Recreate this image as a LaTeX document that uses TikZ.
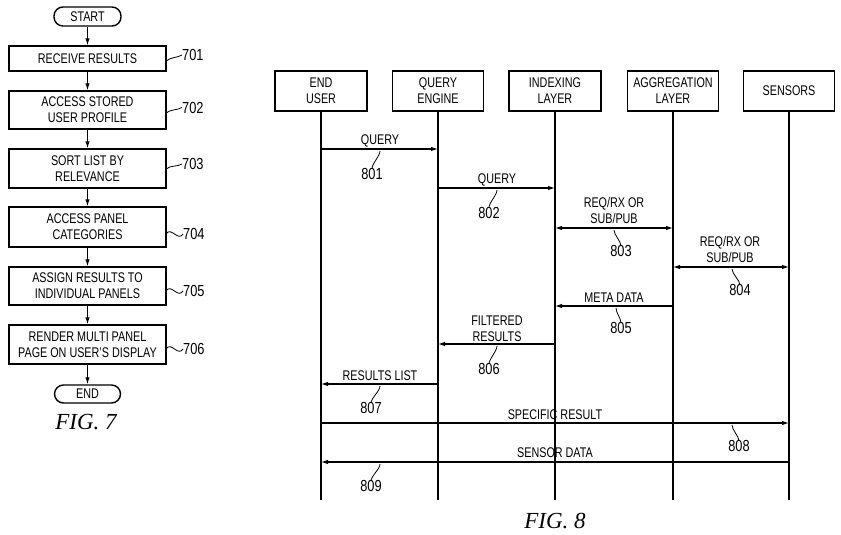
\documentclass[tikz,border=0pt]{standalone}
\usepackage{fontspec}
\setmainfont{Liberation Sans}[FakeStretch=0.77]
\newfontfamily\numfont{Liberation Sans}[FakeStretch=0.8]
\newfontfamily\capfont{Liberation Serif}
\usetikzlibrary{arrows.meta}
\begin{document}
\begin{tikzpicture}[x=1pt,y=-1pt,
  txt/.style={font=\fontsize{14}{16}\selectfont, align=center, inner sep=0pt},
  fbox/.style={draw, line width=1.4pt, minimum width=157pt, inner sep=0pt, font=\fontsize{14}{16}\selectfont, align=center},
  term/.style={draw, line width=1.4pt, rounded corners=9pt, inner sep=0pt, font=\fontsize{14}{16}\selectfont},
  hbox/.style={draw, line width=1.4pt, minimum height=40pt, inner sep=0pt, font=\fontsize{14}{16}\selectfont, align=center},
  num/.style={font=\numfont\fontsize{16}{17}\selectfont, inner sep=0pt},
  flow/.style={line width=1.1pt, -{Latex[length=7pt,width=4.5pt]}},
  life/.style={line width=1.1pt},
  msg/.style={line width=1.1pt, -{Latex[length=7pt,width=4.5pt]}},
  dmsg/.style={line width=1.1pt, {Latex[length=7pt,width=4.5pt]}-{Latex[length=7pt,width=4.5pt]}},
  lead/.style={line width=0.8pt},
  figcap/.style={font=\capfont\itshape\fontsize{23}{26}\selectfont, inner sep=0pt}
]
\useasboundingbox (0,0) rectangle (841,535);

% ---------- FIG. 7 ----------
\node[term, minimum width=67pt, minimum height=19pt] (start) at (87.5,16.5) {START};
\node[fbox, minimum height=25pt] (b701) at (87.5,58.5) {RECEIVE RESULTS};
\node[fbox, minimum height=38pt] (b702) at (87.5,110) {ACCESS STORED\\USER PROFILE};
\node[fbox, minimum height=39pt] (b703) at (87.5,168.5) {SORT LIST BY\\RELEVANCE};
\node[fbox, minimum height=40pt] (b704) at (87.5,227) {ACCESS PANEL\\CATEGORIES};
\node[fbox, minimum height=38pt] (b705) at (87.5,286) {ASSIGN RESULTS TO\\INDIVIDUAL PANELS};
\node[fbox, minimum height=39pt] (b706) at (87.5,344.5) {RENDER MULTI PANEL\\PAGE ON USER'S DISPLAY};
\node[term, minimum width=66pt, minimum height=18pt] (end) at (87.5,394) {END};

\draw[flow] (start) -- (b701);
\draw[flow] (b701) -- (b702);
\draw[flow] (b702) -- (b703);
\draw[flow] (b703) -- (b704);
\draw[flow] (b704) -- (b705);
\draw[flow] (b705) -- (b706);
\draw[flow] (b706) -- (end);

\node[num, anchor=west] (n701) at (182,55) {701};
\node[num, anchor=west] (n702) at (182,107.5) {702};
\node[num, anchor=west] (n703) at (182,164) {703};
\node[num, anchor=west] (n704) at (183,234) {704};
\node[num, anchor=west] (n705) at (183,291) {705};
\node[num, anchor=west] (n706) at (183,349) {706};

\coordinate (t701) at (166,61);
\coordinate (t702) at (166,113);
\coordinate (t703) at (166,169);
\coordinate (t704) at (166,234);
\coordinate (t705) at (166,291);
\coordinate (t706) at (166,349);
\foreach \k in {701,702,703}
  \draw[lead] (t\k) .. controls +(5,-4) and +(-5,3) .. (n\k.west);
\foreach \k in {704,705,706}
  \draw[lead] (t\k) .. controls +(5,-8) and +(-5,8) .. (n\k.west);

\node[figcap] (fig7) at (86,422) {FIG. 7};

% ---------- FIG. 8 ----------
\node[hbox, minimum width=92pt] (eu) at (321,91) {END\\USER};
\node[hbox, minimum width=91pt] (qe) at (438,91) {QUERY\\ENGINE};
\node[hbox, minimum width=92pt] (il) at (555,91) {INDEXING\\LAYER};
\node[hbox, minimum width=91pt] (al) at (673,91) {AGGREGATION\\LAYER};
\node[hbox, minimum width=91pt] (se) at (789,91) {SENSORS};

\coordinate (euE) at (321,500);
\coordinate (qeE) at (438,500);
\coordinate (ilE) at (555,500);
\coordinate (alE) at (673,500);
\coordinate (seE) at (789,500);
\draw[life] (eu.south) -- (euE);
\draw[life] (qe.south) -- (qeE);
\draw[life] (il.south) -- (ilE);
\draw[life] (al.south) -- (alE);
\draw[life] (se.south) -- (seE);

% message end points
\coordinate (m1a) at (321,149); \coordinate (m1b) at (438,149);
\coordinate (m2a) at (438,188); \coordinate (m2b) at (555,188);
\coordinate (m3a) at (555,228); \coordinate (m3b) at (673,228);
\coordinate (m4a) at (673,267); \coordinate (m4b) at (789,267);
\coordinate (m5a) at (673,306); \coordinate (m5b) at (555,306);
\coordinate (m6a) at (555,344); \coordinate (m6b) at (438,344);
\coordinate (m7a) at (438,384); \coordinate (m7b) at (321,384);
\coordinate (m8a) at (321,423); \coordinate (m8b) at (789,423);
\coordinate (m9a) at (789,462); \coordinate (m9b) at (321,462);

\draw[msg] (m1a) -- (m1b);
\draw[msg] (m2a) -- (m2b);
\draw[dmsg] (m3a) -- (m3b);
\draw[dmsg] (m4a) -- (m4b);
\draw[msg] (m5a) -- (m5b);
\draw[msg] (m6a) -- (m6b);
\draw[msg] (m7a) -- (m7b);
\draw[msg] (m8a) -- (m8b);
\draw[msg] (m9a) -- (m9b);

% message labels
\node[txt] (l1) at (380,141) {QUERY};
\node[txt] (l2) at (497,180) {QUERY};
\node[txt] (l3) at (614,210) {REQ/RX OR\\SUB/PUB};
\node[txt] (l4) at (730,249) {REQ/RX OR\\SUB/PUB};
\node[txt] (l5) at (614,298) {META DATA};
\node[txt] (l6) at (497,328.5) {FILTERED\\RESULTS};
\node[txt] (l7) at (380,376) {RESULTS LIST};
\node[txt] (l8) at (555,415) {SPECIFIC RESULT};
\node[txt] (l9) at (555,453) {SENSOR DATA};

% reference numbers
\node[num] (n801) at (372,173.5) {801};
\node[num] (n802) at (489,212.5) {802};
\node[num] (n803) at (621,251) {803};
\node[num] (n804) at (740,290) {804};
\node[num] (n805) at (621,328) {805};
\node[num] (n806) at (489,369) {806};
\node[num] (n807) at (371,408) {807};
\node[num] (n808) at (739,446) {808};
\node[num] (n809) at (371,486) {809};

\coordinate (s801) at (380,151);
\coordinate (s802) at (497,190);
\coordinate (s803) at (614,230);
\coordinate (s804) at (732,269);
\coordinate (s805) at (616,308);
\coordinate (s806) at (497,346);
\coordinate (s807) at (380,386);
\coordinate (s808) at (732,425);
\coordinate (s809) at (380,464);
\foreach \k in {801,802,803,804,805,806,807,808,809}
  \draw[lead] (s\k) .. controls +(0,5) and +(0,-5) .. ([yshift=-1pt]n\k.north);

\node[figcap] (fig8) at (555,521) {FIG. 8};
\end{tikzpicture}
\end{document}
